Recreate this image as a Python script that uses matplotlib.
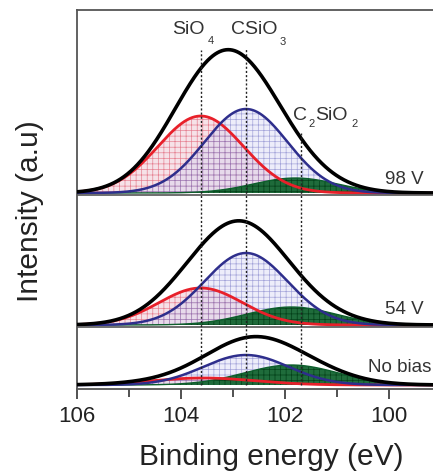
import numpy as np
import matplotlib
matplotlib.use("Agg")
import matplotlib.pyplot as plt

plt.rcParams['font.family'] = ['Liberation Sans', 'DejaVu Sans']
plt.rcParams['hatch.linewidth'] = 0.5

# ---- data: fitted Si 2p components (center eV, height, sigma eV) ----
panels = ["98 V", "54 V", "No bias"]
sio4_center = [103.62, 103.62, 103.58]
sio4_height = [77, 37, 7]
sio4_sigma = [0.82, 0.80, 1.00]
csio3_center = [102.75, 102.75, 102.75]
csio3_height = [84, 72, 30]
csio3_sigma = [0.80, 0.80, 0.82]
c2sio2_center = [101.80, 101.88, 101.88]
c2sio2_height = [15, 18, 20]
c2sio2_sigma = [0.80, 0.85, 0.90]
ref_lines = [103.62, 102.75, 101.69]   # SiO4, CSiO3, C2SiO2 positions
xticks = [106, 104, 102, 100]

# ---- layout ----
baselines = [196, 64, 4]
separators = [194, 62]

fig = plt.figure(figsize=(4.33, 4.73), dpi=100)
ax_w = 1 - 77/433 + 0.01
ax = fig.add_axes([77/433, (473-389)/473, ax_w, 379/473])

E = np.linspace(106, 99.0, 1200)

def g(c, h, s):
    return h * np.exp(-(E - c) ** 2 / (2 * s ** 2))

def px2e(px):
    return 106 - (px - 77) / 51.75

def py2d(py):
    return 389 - py

red = '#e8202a'
blue = '#2e2e8c'
green = '#0d5e2c'

for i, b in enumerate(baselines):
    r = g(sio4_center[i], sio4_height[i], sio4_sigma[i])
    bl = g(csio3_center[i], csio3_height[i], csio3_sigma[i])
    gr = g(c2sio2_center[i], c2sio2_height[i], c2sio2_sigma[i])
    env = r + bl + gr
    ax.fill_between(E, b, b + r, facecolor=(0.93, 0.75, 0.80, 0.45),
                    edgecolor=(0.85, 0.2, 0.3, 0.55), hatch='+++', lw=0, zorder=2)
    ax.fill_between(E, b, b + bl, facecolor=(0.80, 0.80, 0.95, 0.35),
                    edgecolor=(0.3, 0.3, 0.7, 0.45), hatch='+++', lw=0, zorder=3)
    ax.fill_between(E, b, b + gr, facecolor=(0.05, 0.38, 0.17, 0.92),
                    edgecolor=(0.0, 0.22, 0.07, 0.8), hatch='+++', lw=0, zorder=4)
    ax.plot(E, b + gr, color=green, lw=1.0, zorder=5)
    ax.plot(E, b + r, color=red, lw=2.0, zorder=6)
    ax.plot(E, b + bl, color=blue, lw=1.8, zorder=6)
    ax.plot(E, b + env, color='black', lw=2.6, zorder=7)

for s in separators:
    ax.axhline(s, color='#555555', lw=1.2, zorder=8)

# dotted reference lines
ls = (0, (1.5, 1.5))
ax.plot([ref_lines[0]] * 2, [4, 339], color='#222222', lw=1.0, ls=ls, zorder=9)
ax.plot([ref_lines[1]] * 2, [4, 341], color='#222222', lw=1.0, ls=ls, zorder=9)
ax.plot([ref_lines[2]] * 2, [4, 256], color='#222222', lw=1.0, ls=ls, zorder=9)

tc = '#333333'
# component labels with small, low subscripts
pieces = [
    ("SiO", 172, 29, 14), ("4", 207, 41, 8),
    ("CSiO", 230, 29, 14), ("3", 279, 42, 8),
    ("C", 292, 115, 14), ("2", 307, 124, 8),
    ("SiO", 314, 115, 14), ("2", 350, 124, 8),
]
for t, px, py, fs in pieces:
    ax.text(px2e(px), py2d(py), t, fontsize=fs, ha='left', va='center', color=tc)

ax.text(99.33, 209, panels[0], fontsize=13.5, ha='right', va='center', color=tc)
ax.text(99.33, 80, panels[1], fontsize=13.5, ha='right', va='center', color=tc)
ax.text(99.18, 22, panels[2], fontsize=13.5, ha='right', va='center', color=tc)

ax.set_xlim(106, 106 - 356 / 51.75 - 0.05)
ax.set_ylim(0, 379)
ax.set_xticks(xticks)
ax.set_xticks([105, 103, 101], minor=True)
ax.tick_params(axis='x', which='major', length=7, width=1.2, labelsize=16, pad=5, colors='#333333', labelcolor='#222222')
ax.tick_params(axis='x', which='minor', length=6, width=1.2, colors='#333333')
ax.set_yticks([])
for sp in ['top', 'left', 'bottom']:
    ax.spines[sp].set_color('#555555')
    ax.spines[sp].set_linewidth(1.3)
ax.spines['right'].set_visible(False)

ax_w_px = ax_w * 433
ax.set_xlabel('Binding energy (eV)', fontsize=21.5, color='#222222')
ax.xaxis.set_label_coords((271 - 77) / ax_w_px, -(457 - 389) / 379, transform=ax.transAxes)
ax.xaxis.label.set_va('center')
ax.set_ylabel('Intensity (a.u)', fontsize=21.5, color='#222222')
ax.yaxis.set_label_coords(-(77 - 30) / ax_w_px, (389 - 211) / 379, transform=ax.transAxes)
ax.yaxis.label.set_va('center')

fig.savefig('out.png', dpi=100)
